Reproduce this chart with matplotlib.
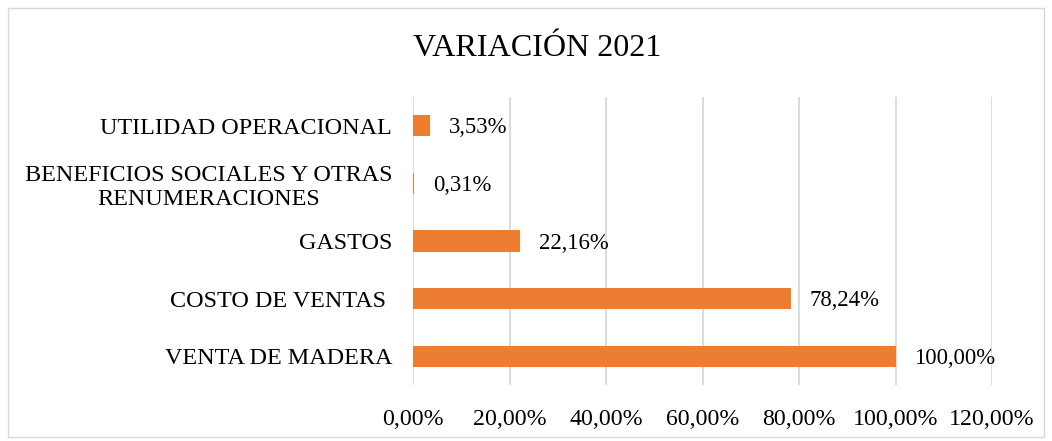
import matplotlib
matplotlib.use("Agg")
import matplotlib.pyplot as plt
from matplotlib.patches import Rectangle

categories = ["VENTA DE MADERA", "COSTO DE VENTAS ", "GASTOS",
              "BENEFICIOS SOCIALES Y OTRAS\nRENUMERACIONES", "UTILIDAD OPERACIONAL"]
values = [100.00, 78.24, 22.16, 0.31, 3.53]
xticks = [0, 20, 40, 60, 80, 100, 120]

plt.rcParams['font.family'] = ['Liberation Serif', 'DejaVu Serif']

fig = plt.figure(figsize=(10.52, 4.41), dpi=100)
W, H = 1052, 441
ax = fig.add_axes([413 / W, 1 - 385 / H, (992 - 413) / W, (385 - 97) / H])

ypos = list(range(len(categories)))
ax.barh(ypos, values, height=0.37, color="#ED7D31", linewidth=0, zorder=3)
for y, v in zip(ypos, values):
    ax.annotate(f"{v:.2f}%".replace(".", ","), (v, y), xytext=(13.5, -1.5),
                textcoords="offset points", ha="left", va="center",
                fontsize=16.4, color="#000000")

ax.set_xlim(0, 120)
ax.set_ylim(-0.5, len(categories) - 0.5)
ax.set_xticks(xticks)
ax.set_xticklabels([f"{t:.2f}%".replace(".", ",") for t in xticks], fontsize=17.2)
ax.set_yticks(ypos)
ax.set_yticklabels(categories, fontsize=17.4, multialignment="center",
                   linespacing=1.2)
ax.tick_params(axis="both", length=0)
ax.tick_params(axis="y", pad=15)
ax.tick_params(axis="x", pad=17)
ax.grid(axis="x", color="#D9D9D9", linewidth=1.3, zorder=0)
for s in ax.spines.values():
    s.set_visible(False)

fig.text(537 / W, 1 - 48 / H, "VARIACIÓN 2021", ha="center", va="center",
         fontsize=23.1, color="#000000")

fig.patches.append(Rectangle((8 / W, 1 - 437 / H), (1044 - 8) / W, (437 - 8) / H,
                             transform=fig.transFigure, fill=False,
                             edgecolor="#D9D9D9", linewidth=1.0))

fig.savefig("out.png", dpi=100)
